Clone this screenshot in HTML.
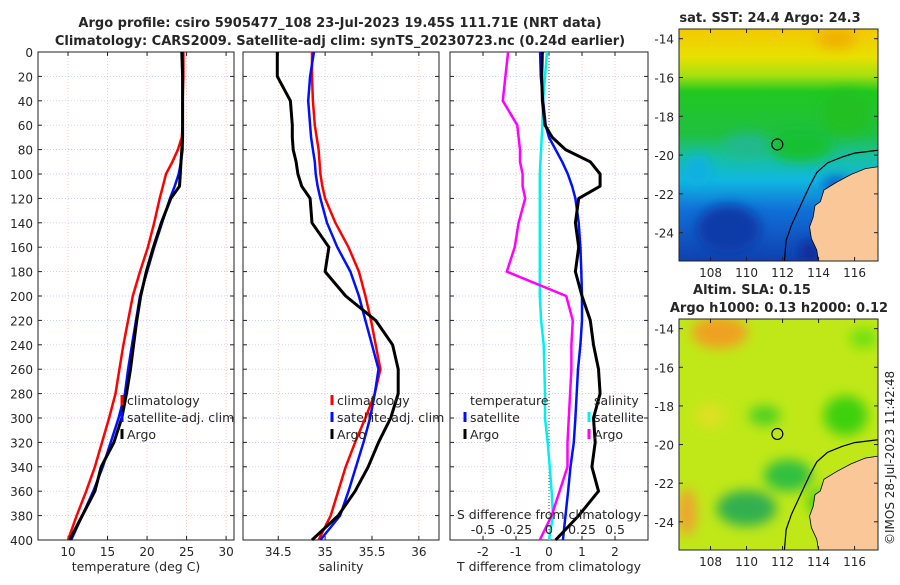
<!DOCTYPE html>
<html><head><meta charset="utf-8"><style>
body{margin:0;background:#fff}
svg text{font-family:"DejaVu Sans","Liberation Sans",sans-serif;fill:#262626}
</style></head><body>
<svg id="fig" width="900" height="580" viewBox="0 0 900 580" xmlns="http://www.w3.org/2000/svg">
<defs>
<filter id="blur" x="-20%" y="-20%" width="140%" height="140%"><feGaussianBlur stdDeviation="6"/></filter>
<clipPath id="c1"><rect x="679" y="29" width="199" height="232"/></clipPath>
<clipPath id="c2"><rect x="679" y="319" width="199" height="231"/></clipPath>
<linearGradient id="sst" x1="0" y1="0" x2="0" y2="1">
<stop offset="0" stop-color="#f3c800"/><stop offset="0.12" stop-color="#e8e000"/><stop offset="0.2" stop-color="#a8e010"/>
<stop offset="0.27" stop-color="#20c820"/><stop offset="0.45" stop-color="#20c040"/><stop offset="0.55" stop-color="#18c0a0"/>
<stop offset="0.65" stop-color="#10b8e0"/><stop offset="0.78" stop-color="#1070d8"/><stop offset="1" stop-color="#1040b0"/>
</linearGradient>
</defs>
<g font-weight="bold" font-size="13" text-anchor="middle">
<text x="340" y="27">Argo profile: csiro 5905477_108 23-Jul-2023 19.45S 111.71E (NRT data)</text>
<text x="340" y="45">Climatology: CARS2009. Satellite-adj clim: synTS_20230723.nc (0.24d earlier)</text>
</g>
<g id="plots"></g>
<g id="maps"></g>
<text x="0" y="0" font-size="12" transform="translate(894,545) rotate(-90)">©IMOS 28-Jul-2023 11:42:48</text>
</svg>
<script>
const depths=[0,20,40,60,70,80,90,100,110,120,140,160,180,200,220,240,260,280,300,320,340,360,380,400];
const tempClim=[24.6,24.6,24.5,24.5,24.4,23.9,23.2,22.4,22.0,21.6,20.9,20.1,19.1,18.2,17.6,17.0,16.5,16.0,15.2,14.3,13.4,12.3,11.1,10.0];
const tempSat=[24.5,24.5,24.5,24.5,24.5,24.5,24.3,24.0,23.5,22.9,21.9,20.9,20.0,19.1,18.6,18.1,17.6,17.2,16.4,15.4,14.4,13.2,11.8,10.4];
const tempArgo=[24.4,24.5,24.5,24.5,24.5,24.4,24.3,24.2,24.1,23.0,21.8,20.8,19.9,19.2,18.7,18.3,17.9,17.4,16.8,15.8,14.2,13.4,11.8,10.2];
const salClim=[34.86,34.86,34.87,34.89,34.91,34.93,34.94,34.95,34.97,35.0,35.11,35.25,35.36,35.43,35.49,35.54,35.59,35.53,35.43,35.32,35.22,35.14,35.06,34.93];
const salSat=[34.88,34.84,34.82,34.84,34.85,34.87,34.89,34.9,34.92,34.95,35.02,35.13,35.27,35.36,35.43,35.5,35.57,35.53,35.48,35.41,35.33,35.25,35.16,34.95];
const salArgo=[34.49,34.49,34.63,34.65,34.65,34.66,34.69,34.71,34.75,34.84,34.86,35.04,35.0,35.22,35.54,35.72,35.78,35.78,35.7,35.57,35.46,35.32,35.14,34.86];
const tDiffSat=[-0.27,-0.25,-0.18,-0.1,0.0,0.2,0.4,0.57,0.7,0.8,0.9,0.95,0.98,1.0,1.0,0.95,0.88,0.84,0.8,0.75,0.65,0.58,0.5,0.42];
const tDiffArgo=[-0.2,-0.22,-0.2,-0.12,0.1,0.5,1.25,1.55,1.55,0.9,0.8,0.9,0.8,1.0,1.25,1.35,1.5,1.55,1.35,1.4,1.3,1.5,0.9,0.2];
const sDiffSat=[-0.015,-0.03,-0.045,-0.05,-0.055,-0.06,-0.065,-0.07,-0.07,-0.07,-0.07,-0.07,-0.07,-0.07,-0.06,-0.04,-0.035,-0.03,-0.03,-0.01,0.005,0.02,0.03,0.0];
const sDiffArgo=[-0.31,-0.33,-0.35,-0.24,-0.23,-0.22,-0.22,-0.2,-0.2,-0.18,-0.23,-0.26,-0.32,0.13,0.18,0.17,0.17,0.16,0.15,0.14,0.14,0.08,0.02,-0.07];
const tTicks=[10,15,20,25,30], sTicks=[34.5,35,35.5,36], dTicks=[-2,-1,0,1,2], sdTicks=[-0.5,-0.25,0,0.25,0.5];
const yTicks=[0,20,40,60,80,100,120,140,160,180,200,220,240,260,280,300,320,340,360,380,400];
const lonTicks=[108,110,112,114,116], latTicks=[-14,-16,-18,-20,-22,-24];

const NS='http://www.w3.org/2000/svg';
const plots=document.getElementById('plots'), maps=document.getElementById('maps');
function mk(tag,attrs,parent){const e=document.createElementNS(NS,tag);for(const k in attrs)e.setAttribute(k,attrs[k]);(parent||plots).appendChild(e);return e;}
const Y0=52,Y1=540;
const yS=d=>Y0+(d/400)*(Y1-Y0);
function panel(x0,x1,lo,hi,ticks,name,xlabel,showY){
  const xs=v=>x0+(v-lo)/(hi-lo)*(x1-x0);
  const g=mk('g',{});
  
  
  for(const t of ticks){mk('line',{x1:xs(t),x2:xs(t),y1:Y0,y2:Y1,stroke:'#f0b8a8','stroke-width':0.7,'stroke-dasharray':'1,2'},g);}
  for(const d of yTicks){mk('line',{x1:x0,x2:x1,y1:yS(d),y2:yS(d),stroke:'#b8c0f0','stroke-width':0.7,'stroke-dasharray':'1,2'},g);
    mk('line',{x1:x0,x2:x0+4,y1:yS(d),y2:yS(d),stroke:'#222'},g);mk('line',{x1:x1-4,x2:x1,y1:yS(d),y2:yS(d),stroke:'#222'},g);
    if(showY){const t=mk('text',{x:x0-5,y:yS(d)+5,'font-size':12,'text-anchor':'end'},g);t.textContent=d;}}
  for(const t of ticks){mk('line',{x1:xs(t),x2:xs(t),y1:Y1,y2:Y1-4,stroke:'#222'},g);mk('line',{x1:xs(t),x2:xs(t),y1:Y0,y2:Y0+4,stroke:'#222'},g);
    const tx=mk('text',{x:xs(t),y:Y1+16,'font-size':12,'text-anchor':'middle'},g);tx.textContent=t;}
  mk('rect',{x:x0,y:Y0,width:x1-x0,height:Y1-Y0,fill:'none',stroke:'#222','stroke-width':1},g);
  const xl=mk('text',{x:(x0+x1)/2,y:571,'font-size':12.5,'text-anchor':'middle'},g);xl.textContent=xlabel;
  return {xs,g};
}
function line(p,vals,color,w,name,scale){
  const pts=vals.map((v,i)=>p.xs(v*(scale||1)).toFixed(1)+','+yS(depths[i]).toFixed(1)).join(' ');
  const e=mk('polyline',{points:pts,fill:'none',stroke:color,'stroke-width':w,'stroke-linejoin':'round'},p.g);
  
  
}
function legend(g,x,y,items){
  items.forEach((it,i)=>{
    if(it[1]){mk('line',{x1:x,x2:x,y1:y+i*17-10,y2:y+i*17,stroke:it[1],'stroke-width':3},g);}
    const t=mk('text',{x:x+5,y:y+i*17,'font-size':12.5},g);t.textContent=it[0];
  });
}
const p1=panel(38,234,6.2,31.0,tTicks,'temperature-panel','temperature (deg C)',true);
line(p1,tempClim,'#ff0000',2.5,'temp-climatology-line');
line(p1,tempSat,'#0010ff',2.5,'temp-satellite-line');
line(p1,tempArgo,'#000',3,'temp-argo-line');
const lg1=mk('g',{},p1.g);
legend(lg1,122,405,[['climatology','#ff0000'],['satellite-adj. clim','#0010ff'],['Argo','#000']]);

const p2=panel(243,439,34.124,36.215,sTicks,'salinity-panel','salinity',false);
line(p2,salClim,'#ff0000',2.5,'sal-climatology-line');
line(p2,salSat,'#0010ff',2.5,'sal-satellite-line');
line(p2,salArgo,'#000',3,'sal-argo-line');
const lg2=mk('g',{},p2.g);
legend(lg2,332,405,[['climatology','#ff0000'],['satellite-adj. clim','#0010ff'],['Argo','#000']]);

const p3=panel(450,648,-3.0,3.0,dTicks,'difference-panel','T difference from climatology',false);
mk('line',{x1:p3.xs(0),x2:p3.xs(0),y1:Y0,y2:Y1,stroke:'#555','stroke-dasharray':'1,2'},p3.g);
line(p3,sDiffSat,'#00f0f0',2.5,'sdiff-satellite-line',4);
line(p3,sDiffArgo,'#ff00ff',2.5,'sdiff-argo-line',4);
line(p3,tDiffSat,'#0010ff',2.5,'tdiff-satellite-line');
line(p3,tDiffArgo,'#000',3,'tdiff-argo-line');
const lg3=mk('g',{},p3.g);
legend(lg3,465,405,[['temperature',null],['satellite','#0010ff'],['Argo','#000']]);
legend(lg3,589,405,[['salinity',null],['satellite','#00f0f0'],['Argo','#ff00ff']]);
const sl=mk('text',{x:549,y:519,'font-size':12.5,'text-anchor':'middle'},p3.g);sl.textContent='S difference from climatology';

for(const t of sdTicks){const tx=mk('text',{x:p3.xs(t*4),y:534,'font-size':12.5,'text-anchor':'middle'},p3.g);tx.textContent=t;}

// maps
const MX0=679,MX1=878;
const lonS=v=>MX0+(v-106.25)/(117.3-106.25)*(MX1-MX0);
function mapPanel(top,bot,clip,name,kind){
  const latS=v=>top+(v-(-13.5))/(-25.46-(-13.5))*(bot-top);
  const g=mk('g',{},maps);
  
  
  const f=mk('g',{'clip-path':'url(#'+clip+')'},g);
  if(kind==='sst'){
    mk('rect',{x:MX0,y:top,width:199,height:bot-top,fill:'url(#sst)'},f);
    const b=mk('g',{filter:'url(#blur)'},f);
    mk('ellipse',{cx:lonS(109),cy:latS(-23.8),rx:32,ry:24,fill:'#0a3aa8'},b);
    mk('ellipse',{cx:lonS(107.3),cy:latS(-20.8),rx:14,ry:16,fill:'#10b0e0'},b);
    mk('ellipse',{cx:lonS(115.5),cy:latS(-17.8),rx:24,ry:22,fill:'#20c020'},b);
    mk('ellipse',{cx:lonS(113),cy:latS(-19.5),rx:32,ry:16,fill:'#18c030'},b);
    mk('ellipse',{cx:lonS(110),cy:latS(-19.5),rx:22,ry:12,fill:'#20b890'},b);
    mk('ellipse',{cx:lonS(115),cy:latS(-14),rx:20,ry:10,fill:'#f0b000'},b);
    mk('ellipse',{cx:lonS(113.5),cy:latS(-25),rx:10,ry:12,fill:'#0a2a98'},b);
    mk('ellipse',{cx:lonS(115),cy:latS(-21.5),rx:14,ry:6,fill:'#1040c0'},b);
  } else {
    mk('rect',{x:MX0,y:top,width:199,height:bot-top,fill:'#c0e818'},f);
    const b=mk('g',{filter:'url(#blur)'},f);
    mk('ellipse',{cx:lonS(108.5),cy:latS(-14.2),rx:28,ry:16,fill:'#f0a020'},b);
    mk('ellipse',{cx:lonS(106.7),cy:latS(-23.5),rx:9,ry:24,fill:'#f0a030'},b);
    mk('ellipse',{cx:lonS(110),cy:latS(-23.3),rx:30,ry:18,fill:'#30b050'},b);
    mk('ellipse',{cx:lonS(112.3),cy:latS(-21.6),rx:24,ry:16,fill:'#30c040'},b);
    mk('ellipse',{cx:lonS(111),cy:latS(-18.5),rx:16,ry:10,fill:'#50d020'},b);
    mk('ellipse',{cx:lonS(115.5),cy:latS(-18.5),rx:22,ry:20,fill:'#40d010'},b);
    mk('ellipse',{cx:lonS(116.5),cy:latS(-14.5),rx:14,ry:10,fill:'#70e010'},b);
    mk('ellipse',{cx:lonS(114.5),cy:latS(-23),rx:20,ry:14,fill:'#40d010'},b);
    mk('ellipse',{cx:lonS(108),cy:latS(-18.5),rx:14,ry:12,fill:'#e0e020'},b);
  }
  const coast=[[117.3,-19.75],[116,-19.9],[115.3,-20.1],[114.5,-20.4],[113.9,-20.9],[113.5,-21.6],[113.2,-22.2],[112.9,-22.8],[112.5,-23.6],[112.2,-24.4],[112.1,-25.5]];
  mk('polyline',{points:coast.map(p=>lonS(p[0])+','+latS(p[1])).join(' '),fill:'none',stroke:'#000','stroke-width':1.2},f);
  const land=[[117.3,-20.6],[116.6,-20.7],[115.8,-21.0],[115,-21.4],[114.3,-21.8],[114.1,-22.4],[113.8,-22.6],[113.7,-23.2],[113.5,-23.7],[113.6,-24.3],[113.9,-24.9],[114.0,-25.5],[117.3,-25.5]];
  const lp=mk('polygon',{points:land.map(p=>lonS(p[0])+','+latS(p[1])).join(' '),fill:'#fac898',stroke:'#000','stroke-width':0.8},f);
  
  
  const c=mk('circle',{cx:lonS(111.71),cy:latS(-19.45),r:5.5,fill:'none',stroke:'#000','stroke-width':1.2},g);
  
  
  mk('rect',{x:MX0,y:top,width:199,height:bot-top,fill:'none',stroke:'#222'},g);
  for(const t of lonTicks){mk('line',{x1:lonS(t),x2:lonS(t),y1:bot,y2:bot-4,stroke:'#222'},g);mk('line',{x1:lonS(t),x2:lonS(t),y1:top,y2:top+4,stroke:'#222'},g);
    const tx=mk('text',{x:lonS(t),y:bot+16,'font-size':12,'text-anchor':'middle'},g);tx.textContent=t;}
  for(const t of latTicks){mk('line',{x1:MX0,x2:MX0+4,y1:latS(t),y2:latS(t),stroke:'#222'},g);mk('line',{x1:MX1-4,x2:MX1,y1:latS(t),y2:latS(t),stroke:'#222'},g);
    const tx=mk('text',{x:MX0-5,y:latS(t)+5,'font-size':12,'text-anchor':'end'},g);tx.textContent=t;}
  return g;
}
const m1=mapPanel(29,261,'c1','sst-map','sst');
const m2=mapPanel(319,550,'c2','sla-map','sla');
function title(g,x,y,s){const t=mk('text',{x:x,y:y,'font-size':13,'font-weight':'bold','text-anchor':'middle'},g);t.textContent=s;}
title(m1,770,22,'sat. SST: 24.4 Argo: 24.3');
title(m2,752,294,'Altim. SLA: 0.15');
title(m2,779,312,'Argo h1000: 0.13 h2000: 0.12');
</script>
</body></html>
